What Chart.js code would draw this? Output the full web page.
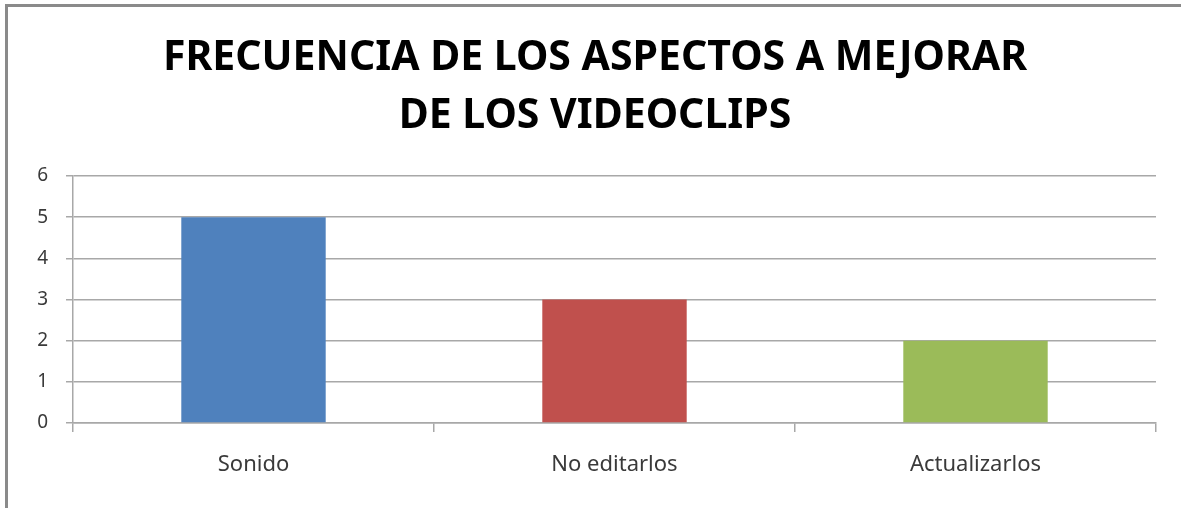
<!DOCTYPE html>
<html>
<head>
<meta charset="utf-8">
<script src="https://cdn.jsdelivr.net/npm/chart.js@4"></script>
<style>
html, body { margin: 0; padding: 0; background: #fff; overflow: hidden; }
#marco { position: relative; width: 1181px; height: 508px; }
#borde { position: absolute; left: 5px; top: 4px; width: 1300px; height: 600px;
  border-top: 3px solid #8a8a8a; border-left: 3px solid #8a8a8a; }
#grafico { position: absolute; left: 0; top: 0; }
</style>
</head>
<body>
<div id="marco">
  <div id="borde"></div>
  <canvas id="grafico" width="1181" height="508"></canvas>
</div>
<script>
var categorias = ["Sonido", "No editarlos", "Actualizarlos"];
var frecuencias = [5, 3, 2];
var colores = ["#4f81bd", "#c0504d", "#9bbb59"];
var titulo = ["FRECUENCIA DE LOS ASPECTOS A MEJORAR", "DE LOS VIDEOCLIPS"];

var colorTexto = "#3a3a3a";
var colorRejilla = "#a8a8a8";

new Chart(document.getElementById("grafico"), {
  type: 'bar',
  data: {
    labels: categorias,
    datasets: [{
      data: frecuencias,
      backgroundColor: colores,
      borderWidth: 0,
      barPercentage: 0.4,
      categoryPercentage: 1
    }]
  },
  options: {
    responsive: false,
    animation: false,
    layout: { padding: { left: 34, right: 25, top: 0, bottom: 0 } },
    plugins: {
      legend: { display: false },
      tooltip: { enabled: false },
      title: {
        display: true,
        text: titulo,
        color: "#000",
        font: { family: "'Noto Sans', sans-serif", size: 41, weight: 'bold', lineHeight: '58px' },
        padding: { top: 29, bottom: 31 }
      }
    },
    scales: {
      x: {
        grid: { drawOnChartArea: false, tickLength: 9, color: colorRejilla, lineWidth: 1.5 },
        border: { color: colorRejilla, width: 1.5 },
        ticks: { color: colorTexto, padding: 20, font: { family: "'Noto Sans', sans-serif", size: 22 } },
        afterFit: function(eje) { eje.height = 85; }
      },
      y: {
        min: 0,
        max: 6,
        ticks: { stepSize: 1, color: colorTexto, padding: 18, font: { family: "'Noto Sans', sans-serif", size: 19 } },
        grid: { color: colorRejilla, lineWidth: 1.5, tickLength: 7 },
        border: { color: colorRejilla, width: 1.5 },
        afterFit: function(eje) { eje.width = 39; }
      }
    }
  }
});
</script>
</body>
</html>
